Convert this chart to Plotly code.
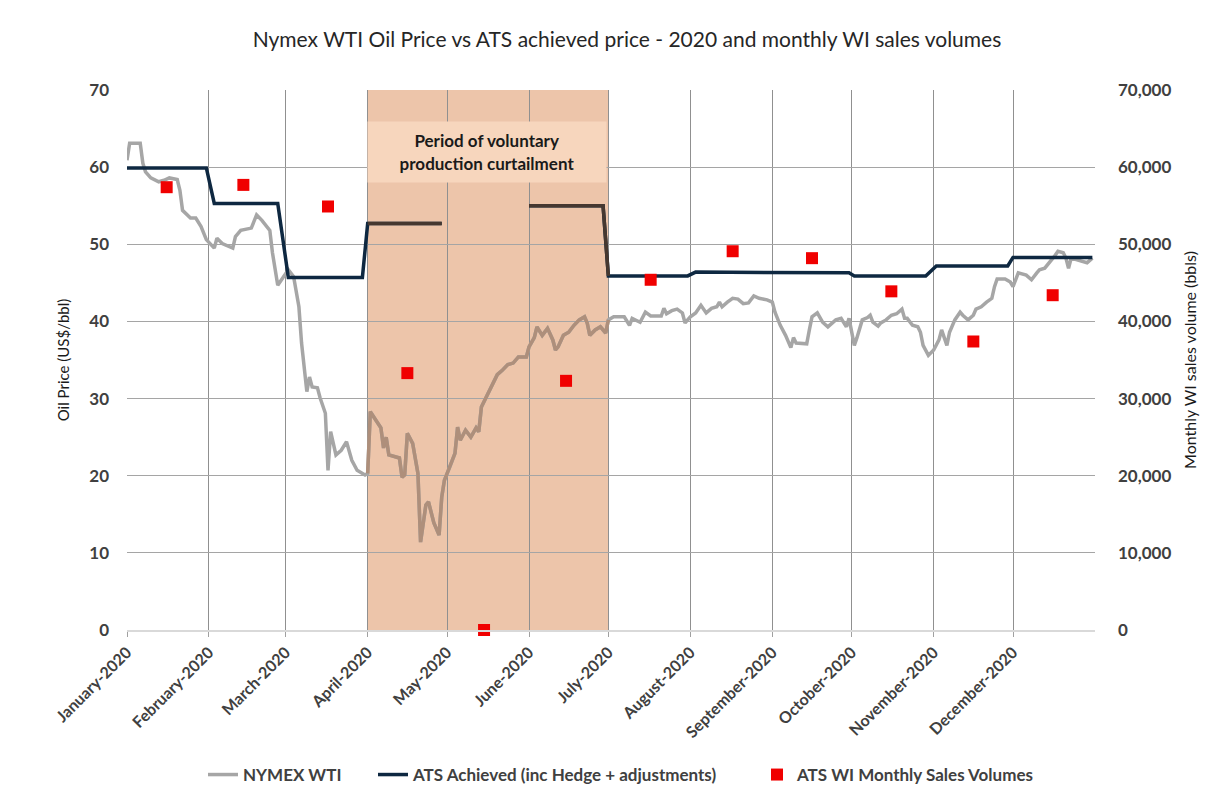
import plotly.graph_objects as go
import pandas as pd

# ---------------- data ----------------
wti_dates = [
    "2020-01-01","2020-01-02","2020-01-05","2020-01-06","2020-01-07","2020-01-08","2020-01-10","2020-01-13","2020-01-15","2020-01-17","2020-01-20","2020-01-21","2020-01-22","2020-01-25","2020-01-27","2020-01-29","2020-01-31",
    "2020-02-03","2020-02-04","2020-02-06","2020-02-10","2020-02-11","2020-02-13","2020-02-17","2020-02-19","2020-02-21","2020-02-24","2020-02-25","2020-02-27","2020-02-29",
    "2020-03-02","2020-03-04","2020-03-06","2020-03-07","2020-03-08","2020-03-09","2020-03-10","2020-03-11","2020-03-13","2020-03-14","2020-03-16","2020-03-17","2020-03-18","2020-03-20","2020-03-22","2020-03-24","2020-03-26","2020-03-28","2020-03-31",
    "2020-04-01","2020-04-02","2020-04-06","2020-04-07","2020-04-08","2020-04-09","2020-04-13","2020-04-14","2020-04-15","2020-04-16","2020-04-18","2020-04-20","2020-04-21","2020-04-23","2020-04-24","2020-04-26","2020-04-28","2020-04-29","2020-04-30",
    "2020-05-02","2020-05-04","2020-05-05","2020-05-06","2020-05-08","2020-05-10","2020-05-12","2020-05-13","2020-05-14","2020-05-17","2020-05-18","2020-05-20","2020-05-22","2020-05-24","2020-05-26","2020-05-28","2020-05-31",
    "2020-06-01","2020-06-03","2020-06-04","2020-06-06","2020-06-08","2020-06-10","2020-06-11","2020-06-12","2020-06-14","2020-06-16","2020-06-18","2020-06-20","2020-06-22","2020-06-23","2020-06-24","2020-06-26","2020-06-28","2020-06-30",
    "2020-07-01","2020-07-03","2020-07-07","2020-07-09","2020-07-10","2020-07-13","2020-07-15","2020-07-17","2020-07-21","2020-07-22","2020-07-23","2020-07-25","2020-07-27","2020-07-29","2020-07-30",
    "2020-08-01","2020-08-03","2020-08-05","2020-08-07","2020-08-09","2020-08-11","2020-08-12","2020-08-13","2020-08-15","2020-08-17","2020-08-19","2020-08-21","2020-08-23","2020-08-25","2020-08-27","2020-08-30",
    "2020-09-01","2020-09-02","2020-09-04","2020-09-06","2020-09-08","2020-09-09","2020-09-10","2020-09-14","2020-09-15","2020-09-16","2020-09-18","2020-09-20","2020-09-22","2020-09-24","2020-09-25","2020-09-27","2020-09-29","2020-09-30",
    "2020-10-01","2020-10-02","2020-10-03","2020-10-05","2020-10-07","2020-10-08","2020-10-09","2020-10-11","2020-10-12","2020-10-14","2020-10-16","2020-10-18","2020-10-20","2020-10-21","2020-10-22","2020-10-24","2020-10-26","2020-10-27","2020-10-28","2020-10-30",
    "2020-11-01","2020-11-02","2020-11-03","2020-11-04","2020-11-06","2020-11-07","2020-11-09","2020-11-11","2020-11-12","2020-11-14","2020-11-16","2020-11-17","2020-11-19","2020-11-21","2020-11-23","2020-11-24","2020-11-25","2020-11-28","2020-11-30",
    "2020-12-01","2020-12-02","2020-12-03","2020-12-06","2020-12-08","2020-12-10","2020-12-11","2020-12-13","2020-12-14","2020-12-16","2020-12-17","2020-12-18","2020-12-20","2020-12-21","2020-12-22","2020-12-23","2020-12-25","2020-12-27","2020-12-29","2020-12-31",
]
wti_price = [
    60.9, 63.1, 63.1, 63.1, 60.5, 59.4, 58.6, 58.1, 58.3, 58.6, 58.4, 57.0, 54.4, 53.4, 53.4, 52.3, 50.6,
    49.5, 50.8, 50.1, 49.5, 51.0, 51.8, 52.1, 53.8, 53.1, 51.8, 48.9, 44.7, 45.8,
    46.7, 45.8, 41.9, 37.2, 33.7, 30.9, 32.8, 31.5, 31.4, 30.1, 28.1, 20.7, 25.7, 22.7, 23.3, 24.4, 22.0, 20.7, 20.1,
    20.3, 28.3, 26.2, 23.6, 25.0, 22.7, 22.3, 19.8, 20.1, 25.5, 24.2, 20.3, 11.4, 16.2, 16.6, 13.9, 12.3, 17.2, 19.4,
    21.1, 22.9, 26.3, 24.6, 25.9, 25.0, 26.2, 25.7, 28.9, 30.9, 31.8, 33.1, 33.7, 34.4, 34.6, 35.4, 35.4,
    36.7, 37.9, 39.3, 38.2, 39.1, 37.6, 36.3, 36.7, 38.2, 38.6, 39.5, 40.2, 40.6, 39.8, 38.2, 38.9, 39.3, 38.5,
    40.2, 40.6, 40.6, 39.5, 40.4, 39.9, 41.2, 40.7, 40.7, 41.7, 41.0, 41.4, 41.6, 41.1, 39.8,
    40.6, 41.1, 42.1, 41.1, 41.7, 41.9, 42.5, 41.9, 42.5, 43.0, 42.9, 42.3, 42.4, 43.3, 43.0, 42.8,
    42.5, 41.2, 39.5, 38.2, 36.6, 37.9, 37.2, 37.1, 38.9, 40.6, 41.1, 39.9, 39.3, 39.9, 40.2, 40.4, 39.3, 40.4,
    38.5, 36.9, 37.9, 40.2, 40.5, 40.8, 39.9, 39.4, 39.8, 40.2, 40.8, 41.0, 41.6, 40.4, 40.4, 39.5, 39.3, 38.6, 36.9, 35.6,
    36.3, 36.9, 37.6, 38.9, 36.9, 38.6, 40.2, 41.2, 40.8, 40.2, 40.8, 41.6, 41.9, 42.5, 43.0, 44.5, 45.5, 45.5, 45.1,
    44.5, 45.4, 46.3, 46.0, 45.4, 46.3, 46.7, 46.9, 47.3, 48.2, 48.6, 49.1, 48.9, 48.2, 46.9, 48.2, 48.0, 47.7, 47.6, 48.2,
]

ats_dates = ["2020-01-01","2020-01-31","2020-02-03","2020-02-27","2020-03-02","2020-03-30",
             "2020-04-01","2020-04-29","2020-05-15","2020-06-01","2020-06-29","2020-07-01",
             "2020-07-31","2020-08-03","2020-08-31","2020-09-02","2020-09-30","2020-10-02",
             "2020-10-29","2020-11-02","2020-11-29","2020-12-01","2020-12-31"]
ats_price = [59.9, 59.9, 55.3, 55.3, 45.7, 45.7,
             52.7, 52.7, None, 55.0, 55.0, 45.9,
             45.9, 46.4, 46.4, 46.3, 46.3, 45.9,
             45.9, 47.2, 47.2, 48.3, 48.3]

vol_dates = ["2020-01-16","2020-02-14","2020-03-17","2020-04-16","2020-05-15","2020-06-15",
             "2020-07-17","2020-08-17","2020-09-16","2020-10-16","2020-11-16","2020-12-16"]
vol_bbls = [57400, 57700, 54900, 33300, 0, 32300, 45400, 49100, 48200, 43900, 37400, 43400]

month_ticks = ["2020-%02d-01" % m for m in range(1, 13)]
month_labels = ["January-2020", "February-2020", "March-2020", "April-2020", "May-2020", "June-2020",
                "July-2020", "August-2020", "September-2020", "October-2020", "November-2020", "December-2020"]

curtail_start, curtail_end = "2020-04-01", "2020-07-01"

# ---------------- figure ----------------
FONT = "Lato"
W, H = 1208, 791            # page body has an 8px margin
L, R, T, B = 119, 121, 82, 169
PW = W - L - R
PH = H - T - B

wti = pd.Series(wti_price, index=pd.to_datetime(wti_dates))
ats = pd.Series(ats_price, index=pd.to_datetime(ats_dates), dtype="float")
in_wti = wti[(wti.index >= curtail_start) & (wti.index <= curtail_end)]
ats_in = ats.copy()
ats_in[(ats_in.index < curtail_start) | (ats_in.index > curtail_end)] = None

fig = go.Figure()
fig.add_trace(go.Scatter(x=wti.index, y=wti.values, mode="lines", name="NYMEX WTI", legend="legend",
                         line=dict(color="#A6A6A6", width=3.5)))
fig.add_trace(go.Scatter(x=in_wti.index, y=in_wti.values, mode="lines", showlegend=False,
                         line=dict(color="#AE8F7B", width=3.5), hoverinfo="skip"))
fig.add_trace(go.Scatter(x=ats.index, y=ats.values, mode="lines", legend="legend2",
                         name="ATS Achieved (inc Hedge + adjustments)",
                         line=dict(color="#0E2841", width=3.5), connectgaps=False))
fig.add_trace(go.Scatter(x=ats_in.index, y=ats_in.values, mode="lines", showlegend=False,
                         line=dict(color="#463830", width=3.5), connectgaps=False, hoverinfo="skip"))
fig.add_trace(go.Scatter(x=pd.to_datetime(vol_dates), y=vol_bbls, mode="markers", yaxis="y2",
                         name="ATS WI Monthly Sales Volumes", cliponaxis=False, legend="legend3",
                         marker=dict(symbol="square", size=12, color="#F00000")))

fig.add_shape(type="rect", xref="x", yref="paper", x0=curtail_start, x1=curtail_end, y0=0, y1=1,
              fillcolor="rgba(222,150,100,0.55)", line_width=0, layer="between")
fig.add_annotation(xref="x", yref="y", x="2020-05-16", y=62.0,
                   text="Period of voluntary<br>production curtailment", showarrow=False,
                   font=dict(family=FONT, size=17, color="#1A1A1A", weight="bold"),
                   bgcolor="#F7D6BD", width=236, height=58)

tickfont = dict(family=FONT, size=17, color="#404040", weight="bold")
legfont = dict(family=FONT, size=17, color="#404040", weight="bold")
leg_common = dict(orientation="h", y=-(775 - 630) / PH, yanchor="middle", xanchor="left", font=legfont,
                  itemwidth=30, bgcolor="rgba(0,0,0,0)")


def legx(screen_px):
    return (screen_px - 8 - L) / PW


fig.update_layout(
    width=W, height=H,
    margin=dict(l=L, r=R, t=T, b=B, autoexpand=False),
    paper_bgcolor="white", plot_bgcolor="white",
    title=dict(text="Nymex WTI Oil Price vs ATS achieved price - 2020 and monthly WI sales volumes",
               x=(627 - 8) / W, xanchor="center", y=1 - 32 / H, yanchor="middle",
               font=dict(family=FONT, size=21, color="#262626")),
    xaxis=dict(type="date", range=["2020-01-01", "2021-01-01"], tickvals=month_ticks, ticktext=month_labels,
               tickangle=-45, tickfont=dict(family=FONT, size=16, color="#404040", weight="bold"),
               showgrid=True, gridcolor="#909090", gridwidth=1.4, automargin=False,
               showline=True, linecolor="#D9D9D9", linewidth=1.5,
               ticks="outside", ticklen=5, tickcolor="#A0A0A0", zeroline=False),
    yaxis=dict(range=[0, 70], dtick=10, tickfont=tickfont, showgrid=True, gridcolor="#A5A5A5", gridwidth=1.4,
               zeroline=False, automargin=False,
               title=dict(text="Oil Price (US$/bbl)", standoff=16,
                          font=dict(family=FONT, size=15, color="#1A1A1A")),
               ticks="", ticklabelstandoff=17),
    yaxis2=dict(range=[0, 70000], dtick=10000, tickformat=",", overlaying="y", side="right",
                showgrid=False, zeroline=False, tickfont=tickfont, ticklabelstandoff=22, automargin=False,
                title=dict(text="Monthly WI sales volume (bbls)", standoff=14,
                           font=dict(family=FONT, size=16, color="#1A1A1A"))),
    legend=dict(x=legx(203), **leg_common),
    legend2=dict(x=legx(373), **leg_common),
    legend3=dict(x=legx(757), **leg_common),
    showlegend=True,
)

fig.write_html("out.html")
